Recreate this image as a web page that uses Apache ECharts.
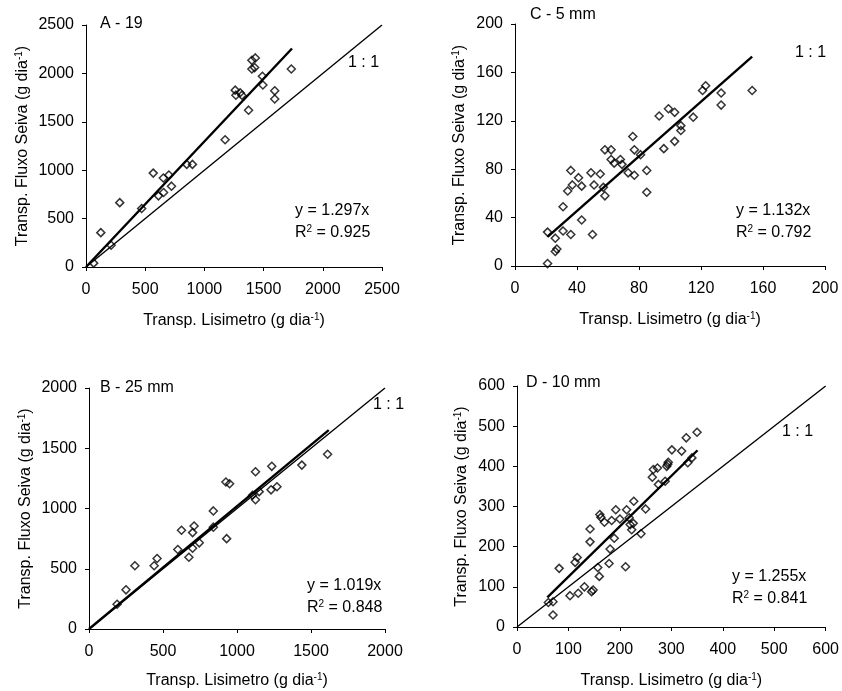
<!DOCTYPE html>
<html>
<head>
<meta charset="utf-8">
<script src="https://cdn.jsdelivr.net/npm/echarts@6/dist/echarts.min.js"></script>
<style>
html,body{margin:0;padding:0;background:#fff;}
#c{width:842px;height:691px;}
</style>
</head>
<body>
<div id="c"></div>
<script>
// ---------- DATA ----------
// Panel A - 19
const ptsA = [[65,40],[125,355],[212,225],[285,665],[470,605],[568,970],[612,735],[655,770],[653,920],[700,950],[722,835],[851,1060],[899,1060],[1175,1315],[1260,1827],[1266,1775],[1302,1800],[1317,1775],[1373,1620],[1401,2135],[1430,2160],[1401,2045],[1424,2060],[1490,1970],[1494,1880],[1594,1820],[1594,1735],[1734,2045]];
const regA = [[0,0],[1740,2257]];
const oneA = [[0,0],[2500,2500]];
// Panel C - 5 mm
const ptsC = [[21,2],[21,28],[26,23],[26,12],[27,14],[31,49],[31,29],[34,62],[36,26],[37,67],[36,79],[41,73],[43,66],[43,38],[49,77],[50,26],[51,67],[55,76],[57,65],[58,58],[58,96],[62,96],[62,88],[64,85],[68,88],[69,84],[73,77],[76,107],[77,75],[77,96],[81,92],[85,79],[85,61],[93,124],[96,97],[99,130],[103,127],[103,103],[107,112],[107,116],[115,123],[121,145],[123,149],[133,143],[133,133],[153,145]];
const regC = [[21,24],[153,173]];
// Panel B - 25 mm
const ptsB = [[190,205],[250,325],[310,525],[440,525],[460,585],[600,660],[625,820],[675,595],[700,670],[700,800],[710,855],[745,715],[840,980],[840,845],[930,750],[925,1220],[950,1205],[1105,1110],[1125,1305],[1125,1073],[1150,1140],[1235,1350],[1230,1155],[1270,1180],[1438,1360],[1612,1450]];
const regB = [[0,0],[1620,1651]];
const oneB = [[0,0],[2000,2000]];
// Panel D - 10 mm
const ptsD = [[61,61],[70,63],[70,30],[82,146],[103,78],[119,84],[131,100],[145,88],[148,92],[113,161],[117,173],[142,244],[142,212],[160,126],[157,148],[161,280],[163,273],[170,261],[179,158],[181,194],[189,221],[184,265],[192,292],[200,269],[211,150],[213,292],[218,272],[220,255],[226,258],[223,242],[227,313],[241,232],[250,294],[263,373],[265,392],[273,396],[275,355],[288,363],[291,400],[293,405],[294,410],[301,441],[320,438],[329,471],[332,409],[340,421],[350,485]];
const regD = [[59,74],[351,440]];
const oneD = [[0,0],[600,600]];

const axisMax = {A:2500, C:200, B:2000, D:600};
const axisStep = {A:500, C:40, B:500, D:100};
const panelTitles = {A:'A - 19', C:'C - 5 mm', B:'B - 25 mm', D:'D - 10 mm'};
const eqText = {A:'y = 1.297x', C:'y = 1.132x', B:'y = 1.019x', D:'y = 1.255x'};
const r2Text = {A:'0.925', C:'0.792', B:'0.848', D:'0.841'};
const xTitle = 'Transp. Lisimetro (g dia{sup|-1})';
const yTitle = 'Transp. Fluxo Seiva (g dia{sup|-1})';

// ---------- LAYOUT ----------
const FONT = '"Liberation Sans", Arial, Helvetica, sans-serif';
const panels = ['A','C','B','D'];
const grids = {
  A:{left:86, top:25, width:296, height:242},
  C:{left:515, top:24, width:310, height:242},
  B:{left:89, top:388, width:296, height:243},
  D:{left:517, top:386, width:310, height:243}
};
const yNameGap = {A:54, C:46, B:54, D:46};
const xNameGap = {A:45, C:45, B:43, D:45};
const supRich = {sup:{fontSize:10, fontFamily:FONT, color:'#000', verticalAlign:'top', lineHeight:10}};

function axisCommon(k, isX){
  return {
    type:'value', gridIndex:panels.indexOf(k), min:0, max:axisMax[k], interval:axisStep[k],
    axisLine:{show:true, onZero:false, lineStyle:{color:'#000', width:1}},
    axisTick:{show:true, inside:false, length:4, lineStyle:{color:'#000', width:1}},
    splitLine:{show:false},
    axisLabel:{color:'#000', fontSize:16, fontFamily:FONT, margin: isX ? 15 : 12,
      formatter: v => String(v)},
    name: isX ? xTitle : yTitle,
    nameLocation:'middle',
    nameGap: isX ? xNameGap[k] : yNameGap[k],
    nameTextStyle:{color:'#000', fontSize:16, fontFamily:FONT, lineHeight:18, rich:supRich}
  };
}

const series = [];
const lines = {A:[regA, oneA], C:[regC, null], B:[regB, oneB], D:[regD, oneD]};
const pts = {A:ptsA, C:ptsC, B:ptsB, D:ptsD};
panels.forEach((k,i)=>{
  if (lines[k][1]) series.push({type:'line', xAxisIndex:i, yAxisIndex:i, data:lines[k][1], showSymbol:false, silent:true, lineStyle:{color:'#000', width:1.4}, z:2});
  series.push({type:'line', xAxisIndex:i, yAxisIndex:i, data:lines[k][0], showSymbol:false, silent:true, lineStyle:{color:'#000', width:2.4}, z:3});
  series.push({type:'scatter', xAxisIndex:i, yAxisIndex:i, data:pts[k], symbol:'diamond', symbolSize:8,
    itemStyle:{color:'rgba(255,255,255,0)', borderColor:'#000', borderWidth:1.5}, z:4});
});

// annotation positions (pixels)
const ann = {
  A:{title:[100,24], one:[348,63], eq:[295,211], r2:[295,233]},
  C:{title:[530,15], one:[795,53], eq:[736,211], r2:[736,233]},
  B:{title:[100,388], one:[373,405], eq:[307,586], r2:[307,608]},
  D:{title:[526,383], one:[782,432], eq:[732,577], r2:[732,599]}
};
const graphic = [];
function txt(x,y,text,extra){
  graphic.push({type:'text', left:x, top:y-9, silent:true,
    style:Object.assign({text:text, fill:'#000', font:'16px '+FONT, lineHeight:18, rich:{sup:{fontSize:10, fontFamily:FONT, fill:'#000', verticalAlign:'top', lineHeight:10}}}, extra||{})});
}
panels.forEach(k=>{
  const a = ann[k];
  txt(a.title[0], a.title[1], panelTitles[k]);
  txt(a.one[0], a.one[1], '1 : 1');
  txt(a.eq[0], a.eq[1], eqText[k]);
  txt(a.r2[0], a.r2[1], 'R{sup|2} = ' + r2Text[k]);
});

const chart = echarts.init(document.getElementById('c'), null, {renderer:'canvas'});
chart.setOption({
  animation:false,
  backgroundColor:'#fff',
  textStyle:{fontFamily:FONT},
  grid: panels.map(k=>Object.assign({containLabel:false}, grids[k])),
  xAxis: panels.map(k=>axisCommon(k,true)),
  yAxis: panels.map(k=>axisCommon(k,false)),
  series: series,
  graphic: graphic
});
</script>
</body>
</html>
